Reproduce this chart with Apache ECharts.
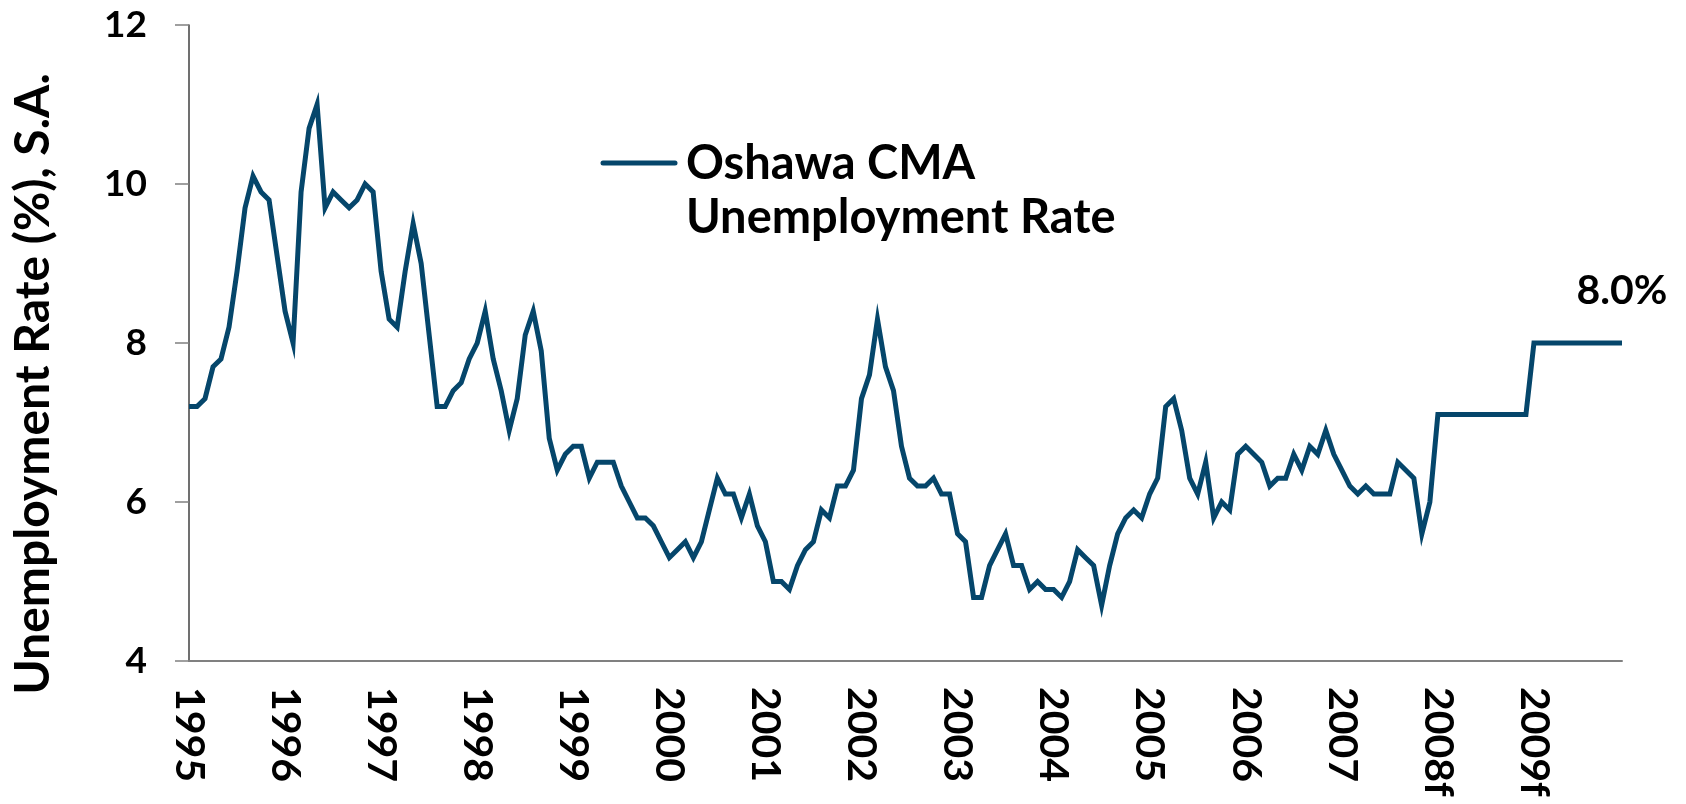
<!DOCTYPE html>
<html>
<head>
<meta charset="utf-8">
<script src="https://cdn.jsdelivr.net/npm/echarts@6/dist/echarts.min.js"></script>
<style>
  html, body { margin: 0; padding: 0; background: #fff; }
  #chartWrapper { width: 1686px; height: 804px; }
</style>
</head>
<body>
<div id="chartWrapper"></div>
<script>
// 年份標籤 (X軸)
const yearLabels = ["1995", "1996", "1997", "1998", "1999", "2000", "2001", "2002",
                    "2003", "2004", "2005", "2006", "2007", "2008f", "2009f"];
// 每月失業率 (%), 每行一年
const monthlyRate = [
  7.2, 7.2, 7.3, 7.7, 7.8, 8.2, 8.9, 9.7, 10.1, 9.9, 9.8, 9.1,   // 1995
  8.4, 8.0, 9.9, 10.7, 11.0, 9.7, 9.9, 9.8, 9.7, 9.8, 10.0, 9.9, // 1996
  8.9, 8.3, 8.2, 8.9, 9.5, 9.0, 8.1, 7.2, 7.2, 7.4, 7.5, 7.8,    // 1997
  8.0, 8.4, 7.8, 7.4, 6.9, 7.3, 8.1, 8.4, 7.9, 6.8, 6.4, 6.6,    // 1998
  6.7, 6.7, 6.3, 6.5, 6.5, 6.5, 6.2, 6.0, 5.8, 5.8, 5.7, 5.5,    // 1999
  5.3, 5.4, 5.5, 5.3, 5.5, 5.9, 6.3, 6.1, 6.1, 5.8, 6.1, 5.7,    // 2000
  5.5, 5.0, 5.0, 4.9, 5.2, 5.4, 5.5, 5.9, 5.8, 6.2, 6.2, 6.4,    // 2001
  7.3, 7.6, 8.3, 7.7, 7.4, 6.7, 6.3, 6.2, 6.2, 6.3, 6.1, 6.1,    // 2002
  5.6, 5.5, 4.8, 4.8, 5.2, 5.4, 5.6, 5.2, 5.2, 4.9, 5.0, 4.9,    // 2003
  4.9, 4.8, 5.0, 5.4, 5.3, 5.2, 4.7, 5.2, 5.6, 5.8, 5.9, 5.8,    // 2004
  6.1, 6.3, 7.2, 7.3, 6.9, 6.3, 6.1, 6.5, 5.8, 6.0, 5.9, 6.6,    // 2005
  6.7, 6.6, 6.5, 6.2, 6.3, 6.3, 6.6, 6.4, 6.7, 6.6, 6.9, 6.6,    // 2006
  6.4, 6.2, 6.1, 6.2, 6.1, 6.1, 6.1, 6.5, 6.4, 6.3, 5.6, 6.0,    // 2007
  7.1, 7.1, 7.1, 7.1, 7.1, 7.1, 7.1, 7.1, 7.1, 7.1, 7.1, 7.1,    // 2008f
  8.0, 8.0, 8.0, 8.0, 8.0, 8.0, 8.0, 8.0, 8.0, 8.0, 8.0, 8.0     // 2009f
];
// Y軸刻度
const yTicks = [4, 6, 8, 10, 12];

const seriesName = "Oshawa CMA Unemployment Rate";
const lineColor = "#05466b";
const fontFamily = "Lato";
const fontWeight = "bold";

// 每月類別: "1995-01" ...
const categories = [];
yearLabels.forEach((year) => {
  for (let m = 1; m <= 12; m++) categories.push(year + "-" + String(m).padStart(2, "0"));
});

const myChart = echarts.init(document.getElementById("chartWrapper"));

let option = {
  animation: false,
  grid: {
    left: 189,
    right: 64,
    top: 25,
    bottom: 143,
    containLabel: false
  },
  xAxis: {
    type: "category",
    data: categories,
    boundaryGap: false,
    axisLine: { lineStyle: { color: "#808080", width: 2 } },
    axisTick: { show: false },
    axisLabel: {
      interval: 11, // 每年顯示一次
      rotate: -90,
      margin: 26,
      color: "#000",
      fontFamily: fontFamily,
      fontWeight: fontWeight,
      fontSize: 41,
      formatter: (value) => value.split("-")[0]
    },
    splitLine: { show: false }
  },
  yAxis: {
    type: "value",
    min: yTicks[0],
    max: yTicks[yTicks.length - 1],
    interval: 2,
    axisLine: { show: true, lineStyle: { color: "#404040", width: 1.5 } },
    axisTick: { show: true, length: 14, lineStyle: { color: "#808080", width: 1.5 } },
    axisLabel: {
      margin: 42,
      color: "#000",
      fontFamily: fontFamily,
      fontWeight: fontWeight,
      fontSize: 37
    },
    splitLine: { show: false }
  },
  graphic: [
    {
      // Y軸標題
      type: "text",
      x: 34,
      y: 384,
      rotation: Math.PI / 2,
      style: {
        text: "Unemployment Rate (%), S.A.",
        fill: "#000",
        fontFamily: fontFamily,
        fontWeight: fontWeight,
        fontSize: 48,
        align: "center",
        verticalAlign: "middle"
      }
    },
    {
      // 圖例線
      type: "line",
      shape: { x1: 603, y1: 163, x2: 675, y2: 163 },
      style: { stroke: lineColor, lineWidth: 5, lineCap: "round" }
    },
    {
      // 圖例文字
      type: "text",
      x: 686,
      y: 136.5,
      style: {
        text: "Oshawa CMA\nUnemployment Rate",
        fill: "#000",
        fontFamily: fontFamily,
        fontWeight: fontWeight,
        fontSize: 47,
        lineHeight: 54,
        align: "left",
        verticalAlign: "top"
      }
    }
  ],
  series: [
    {
      name: seriesName,
      type: "line",
      showSymbol: true,
      showAllSymbol: true,
      symbol: "circle",
      symbolSize: 0,
      lineStyle: { color: lineColor, width: 5, join: "miter" },
      itemStyle: { color: lineColor },
      data: monthlyRate.map((v, i) => {
        if (i !== monthlyRate.length - 1) return v;
        return {
          value: v,
          label: {
            show: true,
            position: "top",
            distance: 32,
            color: "#000",
            fontFamily: fontFamily,
            fontWeight: fontWeight,
            fontSize: 41,
            formatter: (p) => p.value.toFixed(1) + "%"
          }
        };
      })
    }
  ]
};

myChart.setOption(option);
</script>
</body>
</html>
